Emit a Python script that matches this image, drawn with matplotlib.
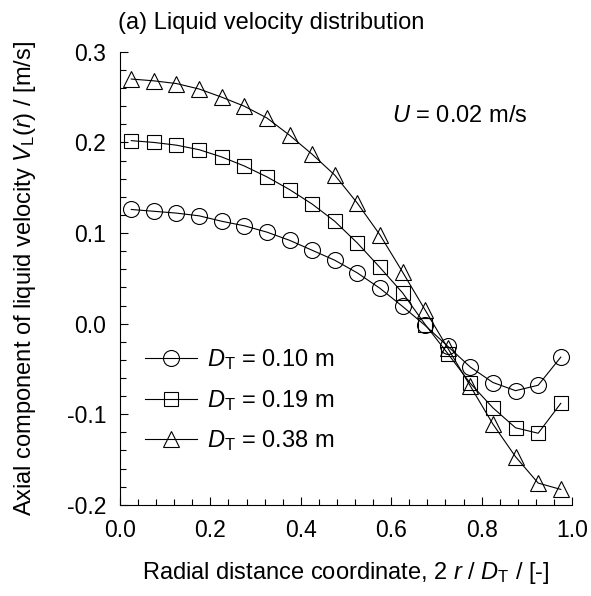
import numpy as np
import matplotlib.pyplot as plt
from matplotlib.ticker import MultipleLocator

plt.rcParams['font.family'] = ['Liberation Sans', 'DejaVu Sans']
plt.rcParams['mathtext.fontset'] = 'custom'
plt.rcParams['mathtext.rm'] = 'Liberation Sans'
plt.rcParams['mathtext.it'] = 'Liberation Sans:italic'
plt.rcParams['axes.unicode_minus'] = False

# radial positions 2r/D_T
x = [0.025, 0.075, 0.125, 0.175, 0.225, 0.275, 0.325, 0.375, 0.425, 0.475,
     0.525, 0.575, 0.625, 0.675, 0.725, 0.775, 0.825, 0.875, 0.925, 0.975]

# D_T = 0.10 m
v_010 = [0.126, 0.124, 0.122, 0.119, 0.113, 0.108, 0.101, 0.092, 0.081, 0.070,
         0.056, 0.039, 0.019, -0.002, -0.025, -0.048, -0.065, -0.074, -0.068, -0.037]
# D_T = 0.19 m
v_019 = [0.202, 0.200, 0.197, 0.192, 0.184, 0.174, 0.162, 0.148, 0.132, 0.113,
         0.089, 0.062, 0.034, -0.001, -0.033, -0.066, -0.093, -0.115, -0.121, -0.088]
# D_T = 0.38 m
v_038 = [0.270, 0.268, 0.265, 0.259, 0.250, 0.240, 0.227, 0.208, 0.187, 0.164,
         0.133, 0.098, 0.057, 0.015, -0.027, -0.069, -0.111, -0.147, -0.176, -0.183]

labels = [r'$D_{\rm T}$ = 0.10 m', r'$D_{\rm T}$ = 0.19 m', r'$D_{\rm T}$ = 0.38 m']
markers = ['o', 's', '^']
msizes = [11.5, 10, 12]

fig = plt.figure(figsize=(5.91, 5.96), dpi=100)
ax = fig.add_axes([0.203, 0.153, 0.765, 0.760])

for v, m, ms, lab in zip([v_010, v_019, v_038], markers, msizes, labels):
    ax.plot(x, v, color='black', lw=0.8, marker=m, ms=ms,
            mfc='none', mec='black', mew=0.8, label=lab)

ax.set_xlim(0, 1.0)
ax.set_ylim(-0.2, 0.3)
ax.xaxis.set_major_locator(MultipleLocator(0.2))
ax.xaxis.set_minor_locator(MultipleLocator(0.04))
ax.yaxis.set_major_locator(MultipleLocator(0.1))
ax.yaxis.set_minor_locator(MultipleLocator(0.02))
ax.tick_params(which='both', direction='in', labelsize=16.5, width=0.8, pad=10)
ax.tick_params(which='major', length=6)
ax.tick_params(which='minor', length=4.5)
ax.spines['top'].set_visible(False)
ax.spines['right'].set_visible(False)
ax.spines['left'].set_linewidth(0.8)
ax.spines['bottom'].set_linewidth(0.8)

fig.text(0.585, 0.039, r'Radial distance coordinate, 2 $r$ / $D_{\rm T}$ / [-]',
         fontsize=17, ha='center', va='center')
fig.text(0.042, 0.533, r'Axial component of liquid velocity $V_{\rm L}$($r$) / [m/s]',
         fontsize=17, ha='center', va='center', rotation=90)
fig.text(0.2, 0.961, '(a) Liquid velocity distribution', fontsize=17, va='center', ha='left')
fig.text(0.663, 0.805, r'$U$ = 0.02 m/s', fontsize=17, va='center', ha='left')

ax.legend(loc='upper left', bbox_to_anchor=(0.035, 0.368), frameon=False, fontsize=17,
          handlelength=2.2, handletextpad=0.4, labelspacing=0.66, borderaxespad=0.0)

plt.savefig('out.png', dpi=100)
